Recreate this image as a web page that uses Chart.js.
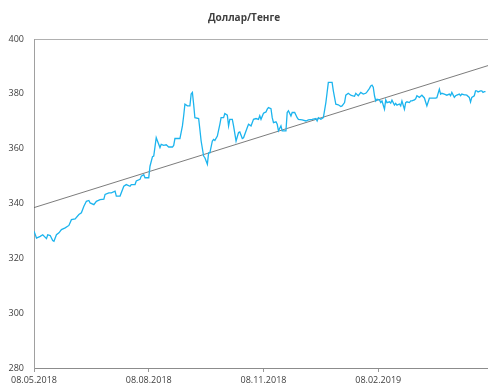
<!DOCTYPE html>
<html>
<head>
<meta charset="utf-8">
<script src="https://cdn.jsdelivr.net/npm/chart.js@4"></script>
<style>
html,body{margin:0;padding:0;background:#fff;}
#wrap{width:488px;height:388px;}
</style>
</head>
<body>
<div id="wrap"><canvas id="c" width="488" height="388"></canvas></div>
<script>
const chartTitle = "Доллар/Тенге";
const startDate = [2018, 5, 8];
const tickDays = [0, 92, 184, 276];
const yTicks = [280, 300, 320, 340, 360, 380, 400];

const days = [0,2,5,7,10,11,13,15,16,18,20,22,25,28,30,33,36,38,40,42,44,45,48,50,53,56,57,60,62,65,66,69,72,74,77,78,81,82,85,86,88,89,92,93,95,96,98,99,101,102,104,106,108,111,112,113,117,119,120,121,123,125,126,127,128,129,132,133,134,136,137,139,140,141,143,144,145,147,149,150,152,153,155,156,157,159,160,162,164,165,167,168,171,172,174,176,178,180,181,182,184,186,187,188,190,191,192,194,195,196,198,199,202,203,204,206,207,209,211,212,215,218,220,223,226,227,228,230,232,234,235,236,239,240,242,244,246,247,249,250,252,254,255,257,258,260,262,264,266,267,269,270,271,272,273,274,275,277,278,279,281,282,283,285,286,287,289,290,291,293,294,295,297,298,299,301,302,303,305,306,307,309,310,311,313,314,315,317,320,322,323,325,326,327,329,331,333,334,335,337,338,339,341,342,343,345,346,347,349,350,351,353,354,355,356,358,359,360,361,362];
const rates = [329.9,327.4,328,328.6,327.2,328.6,328.3,326.5,326.2,328.6,329.3,330.5,331.1,332,334.1,334.4,336,336.6,339,340.8,341.1,340.2,339.6,340.8,341.4,341.6,343.3,343.9,343.9,344.5,342.7,342.7,346.3,346.9,346.3,346.9,346.9,348.2,348.8,350,350.5,349.4,349.4,353.6,357.1,357.3,364,362.8,360.4,361.6,361.2,361.4,360.6,360.6,361.2,363.7,363.7,368.3,372,376.2,375.6,375.6,379.9,380.5,376.2,371.3,371,367,362.8,357.3,356.7,354.3,358.5,358.5,362.8,363.4,363,364.6,368.9,371.3,371.3,372.8,372.2,368.3,370.7,370.7,368.3,362.8,365.9,366.1,363.7,364,367.7,368.9,368.3,370.7,371,370.7,372,370.7,372.9,373.4,374.4,375,374.6,371.3,369.5,369.8,368.9,366.5,368.3,366.5,366.5,373.2,373.8,371.9,373.2,373.2,371.3,370.7,370.5,370.1,370.5,370.7,371,370.1,371.3,370.7,371.3,376.8,380.5,384.2,384.2,381.1,376.2,376,375.4,375.6,376.8,379.5,380.2,379.5,379.3,379.1,380.2,379.3,380.5,379.9,380.2,380.7,382,382.9,383.2,382.4,379.3,377.4,378,377.8,376.8,377.4,374.4,377.8,376.8,377.1,376.6,377.7,375.9,376.5,375.9,376.3,375.6,377.4,374.4,376.8,377.1,376.8,377.4,377.4,377.8,378.2,379.3,378.7,379.1,379.5,378.5,377,375.6,378.4,378.4,378.4,378.6,381.7,379.9,380.2,379.9,379.5,379.9,379.3,380.5,378.7,379.3,379.5,379.9,379.3,379.9,379.6,379.6,379.5,378.7,377,378.7,379.3,381.1,381.1,380.7,381.1,381.1,380.5,380.8,380.8];

const trendDays = [0, 364];
const trendValues = [338.5, 390.3];

function dayLabel(d) {
  const t = Date.UTC(startDate[0], startDate[1] - 1, startDate[2]) + d * 86400000;
  const dt = new Date(t);
  const dd = String(dt.getUTCDate()).padStart(2, '0');
  const mm = String(dt.getUTCMonth() + 1).padStart(2, '0');
  return dd + '.' + mm + '.' + dt.getUTCFullYear();
}

const rateData = days.map((d, i) => ({x: d, y: rates[i]}));
const trendData = trendDays.map((d, i) => ({x: d, y: trendValues[i]}));

const FONT = "'Open Sans', 'Liberation Sans', sans-serif";

new Chart(document.getElementById('c'), {
  type: 'line',
  data: {
    datasets: [
      {data: rateData, borderColor: '#1cb4ee', borderWidth: 1.3, pointRadius: 0, tension: 0, fill: false},
      {data: trendData, borderColor: '#5a5a5a', borderWidth: 0.8, pointRadius: 0, tension: 0, fill: false}
    ]
  },
  options: {
    responsive: false,
    animation: false,
    devicePixelRatio: 1,
    layout: {padding: {left: 0, right: 0, top: 0, bottom: 0}},
    plugins: {
      legend: {display: false},
      tooltip: {enabled: false},
      title: {
        display: true,
        text: chartTitle,
        color: '#404040',
        font: {family: FONT, size: 10, weight: 'bold'},
        padding: {top: 12, bottom: 15}
      }
    },
    scales: {
      x: {
        type: 'linear',
        min: 0,
        max: 364,
        afterBuildTicks: s => { s.ticks = tickDays.map(v => ({value: v})); },
        afterFit: s => { s.height = 20; },
        ticks: {
          autoSkip: false,
          maxRotation: 0,
          padding: 3,
          color: '#404040',
          font: {family: FONT, size: 9},
          callback: v => dayLabel(v)
        },
        grid: {drawOnChartArea: false, drawTicks: true, tickLength: 4, color: '#999', lineWidth: 1},
        border: {display: true, color: '#8c8c8c', width: 1}
      },
      y: {
        min: 280,
        max: 400,
        afterBuildTicks: s => { s.ticks = yTicks.map(v => ({value: v})); },
        afterFit: s => { s.width = 34; },
        ticks: {
          padding: 10,
          color: '#404040',
          font: {family: FONT, size: 9}
        },
        grid: {
          drawTicks: false,
          color: ctx => (ctx.tick && ctx.tick.value === 400) ? '#b0b0b0' : 'rgba(0,0,0,0)',
          lineWidth: 1
        },
        border: {display: true, color: '#a0a0a0', width: 1}
      }
    }
  }
});
</script>
</body>
</html>
